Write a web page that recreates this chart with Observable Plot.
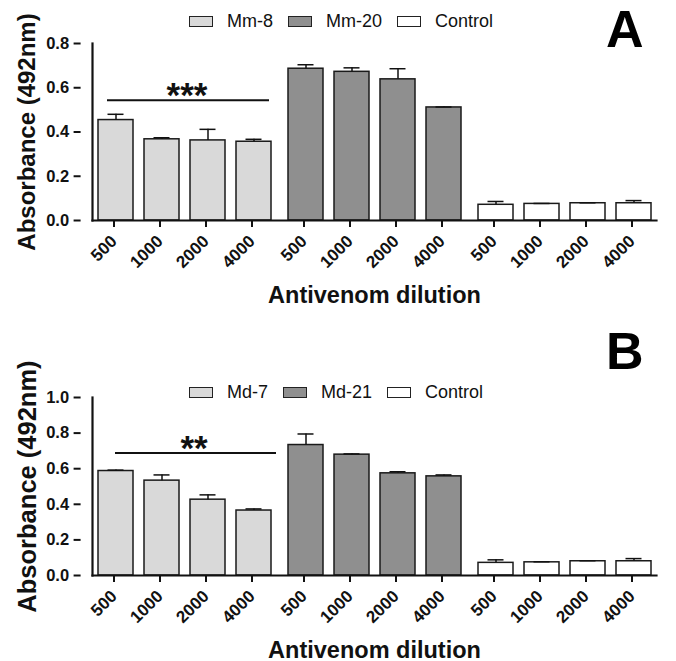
<!DOCTYPE html>
<html>
<head>
<meta charset="utf-8">
<script src="https://cdn.jsdelivr.net/npm/d3@7"></script>
<script src="https://cdn.jsdelivr.net/npm/@observablehq/plot@0.6"></script>
<style>
  body { margin: 0; background: #fff; font-family: "Liberation Sans", Arial, sans-serif; }
  #root { position: relative; width: 676px; height: 661px; overflow: hidden; }
  .panel { position: absolute; left: 0; width: 676px; }
  .legend { position: absolute; left: 189px; height: 24px; display: flex; align-items: center; font-size: 18px; color: #111; }
  .item { display: flex; align-items: center; margin-right: 15px; }
  .swatch { width: 24px; height: 11px; border: 1.2px solid #222; box-sizing: border-box; margin-right: 14px; }
</style>
</head>
<body>
<div id="root"></div>
<script>
// ---------- data ----------
const dilutions = ["500", "1000", "2000", "4000"];

// Panel A
const seriesA = ["Mm-8", "Mm-20", "Control"];
const meanA_Mm8 = [0.454, 0.367, 0.362, 0.356];
const sdA_Mm8   = [0.026, 0.007, 0.050, 0.011];
const meanA_Mm20 = [0.686, 0.672, 0.638, 0.511];
const sdA_Mm20   = [0.018, 0.018, 0.048, 0.002];
const meanA_Ctrl = [0.071, 0.075, 0.078, 0.078];
const sdA_Ctrl   = [0.015, 0.002, 0.002, 0.012];
const ticksA = [0, 0.2, 0.4, 0.6, 0.8];
const sigA = {y: 0.543, stars: "***"};

// Panel B
const seriesB = ["Md-7", "Md-21", "Control"];
const meanB_Md7 = [0.587, 0.533, 0.426, 0.365];
const sdB_Md7   = [0.005, 0.032, 0.027, 0.009];
const meanB_Md21 = [0.733, 0.679, 0.574, 0.557];
const sdB_Md21   = [0.062, 0.004, 0.009, 0.008];
const meanB_Ctrl = [0.071, 0.074, 0.080, 0.080];
const sdB_Ctrl   = [0.017, 0.003, 0.003, 0.015];
const ticksB = [0, 0.2, 0.4, 0.6, 0.8, 1.0];
const sigB = {y: 0.688, stars: "**"};

const fills = ["#d9d9d9", "#8f8f8f", "#ffffff"];
const font = "Liberation Sans, Arial, sans-serif";

function buildRows(series, means, sds) {
  return series.flatMap((s, i) => dilutions.map((d, j) => ({
    series: s, dil: d, mean: means[i][j], top: means[i][j] + sds[i][j]
  })));
}

function makePanel(cfg) {
  const rows = buildRows(cfg.series, cfg.means, cfg.sds);
  const sig = [{series: cfg.series[0], y: cfg.sig.y, from: dilutions[0], to: dilutions[3], stars: cfg.sig.stars, mid: dilutions[1]}];
  return Plot.plot({
    width: 676,
    height: cfg.height,
    marginLeft: 80,
    marginRight: 9,
    marginTop: cfg.marginTop,
    marginBottom: cfg.marginBottom,
    style: {fontFamily: font, background: "transparent", overflow: "visible", color: "#111"},
    fx: {domain: cfg.series, axis: null, paddingInner: 0.032, paddingOuter: 0.06},
    x: {domain: dilutions, axis: null, paddingInner: 0.24, paddingOuter: 0.12},
    y: {domain: [0, cfg.ticks[cfg.ticks.length - 1]], axis: null},
    color: {domain: cfg.series, range: fills},
    marks: [
      Plot.barY(rows, {fx: "series", x: "dil", y: "mean", fill: "series", stroke: "#1a1a1a", strokeWidth: 1.5}),
      Plot.ruleX(rows, {fx: "series", x: "dil", y1: "mean", y2: "top", stroke: "#111", strokeWidth: 1.5}),
      Plot.tickY(rows, {fx: "series", x: "dil", y: "top", insetLeft: 9.5, insetRight: 9.5, stroke: "#111", strokeWidth: 1.5}),
      Plot.ruleY(sig, {fx: "series", y: "y", x1: "from", x2: "to", insetLeft: cfg.sigInsetL, insetRight: cfg.sigInsetR, stroke: "#111", strokeWidth: 2}),
      Plot.text(sig, {fx: "series", y: "y", x: "mid", text: "stars", dx: cfg.starDx, dy: 7, lineAnchor: "bottom", fontSize: 35, fontWeight: "bold", letterSpacing: 0.5, fill: "#111"}),
      Plot.axisX({tickRotate: -45, tickSize: 7, tickPadding: 11, dx: -2, fontSize: 17, fontWeight: "bold", label: null, strokeWidth: 2}),
      Plot.axisY({ticks: cfg.ticks, tickFormat: ".1f", tickSize: 7, tickPadding: 5, fontSize: 16.5, fontWeight: "bold", label: null, strokeWidth: 2, dx: -11.4}),
      Plot.frame({anchor: "bottom", facet: "super", stroke: "#111", strokeWidth: 2.2}),
      Plot.frame({anchor: "left", facet: "super", stroke: "#111", strokeWidth: 2.2}),
      Plot.text(["Absorbance (492nm)"], {facet: "super", frameAnchor: "left", rotate: -90, dx: -65, textAnchor: "middle", lineAnchor: "middle", fontSize: cfg.yTitleSize, fontWeight: "bold", fill: "#111"}),
      Plot.text(["Antivenom dilution"], {facet: "super", frameAnchor: "bottom", dy: 82, textAnchor: "middle", lineAnchor: "bottom", fontSize: 23.5, fontWeight: "bold", fill: "#111"}),
      Plot.text([cfg.letter], {facet: "super", frameAnchor: "top-right", dx: cfg.letterDx, dy: cfg.letterDy, textAnchor: "end", lineAnchor: "bottom", fontSize: cfg.letterSize, fontWeight: "bold", fill: "#000"})
    ]
  });
}

function makeLegend(series, top) {
  const lg = document.createElement("div");
  lg.className = "legend";
  lg.style.top = top + "px";
  series.forEach((s, i) => {
    const it = document.createElement("div");
    it.className = "item";
    const sw = document.createElement("div");
    sw.className = "swatch";
    sw.style.background = fills[i];
    const tx = document.createElement("span");
    tx.textContent = s;
    it.appendChild(sw); it.appendChild(tx);
    lg.appendChild(it);
  });
  return lg;
}

const root = document.getElementById("root");

const panelA = document.createElement("div");
panelA.className = "panel"; panelA.style.top = "0px";
panelA.appendChild(makePanel({
  series: seriesA, means: [meanA_Mm8, meanA_Mm20, meanA_Ctrl], sds: [sdA_Mm8, sdA_Mm20, sdA_Ctrl],
  ticks: ticksA, sig: sigA, height: 330, marginTop: 43, marginBottom: 110,
  sigInsetL: 9, sigInsetR: 2, starDx: 25, yTitleSize: 24, letter: "A", letterSize: 52, letterDx: -13, letterDy: 3
}));
root.appendChild(panelA);

const panelB = document.createElement("div");
panelB.className = "panel"; panelB.style.top = "330px";
panelB.appendChild(makePanel({
  series: seriesB, means: [meanB_Md7, meanB_Md21, meanB_Ctrl], sds: [sdB_Md7, sdB_Md21, sdB_Ctrl],
  ticks: ticksB, sig: sigB, height: 331, marginTop: 67, marginBottom: 86,
  sigInsetL: 17, sigInsetR: -5, starDx: 32, yTitleSize: 25.5, letter: "B", letterSize: 52, letterDx: -13, letterDy: -29
}));
root.appendChild(panelB);

root.appendChild(makeLegend(seriesA, 9));
root.appendChild(makeLegend(seriesB, 380));
</script>
</body>
</html>
